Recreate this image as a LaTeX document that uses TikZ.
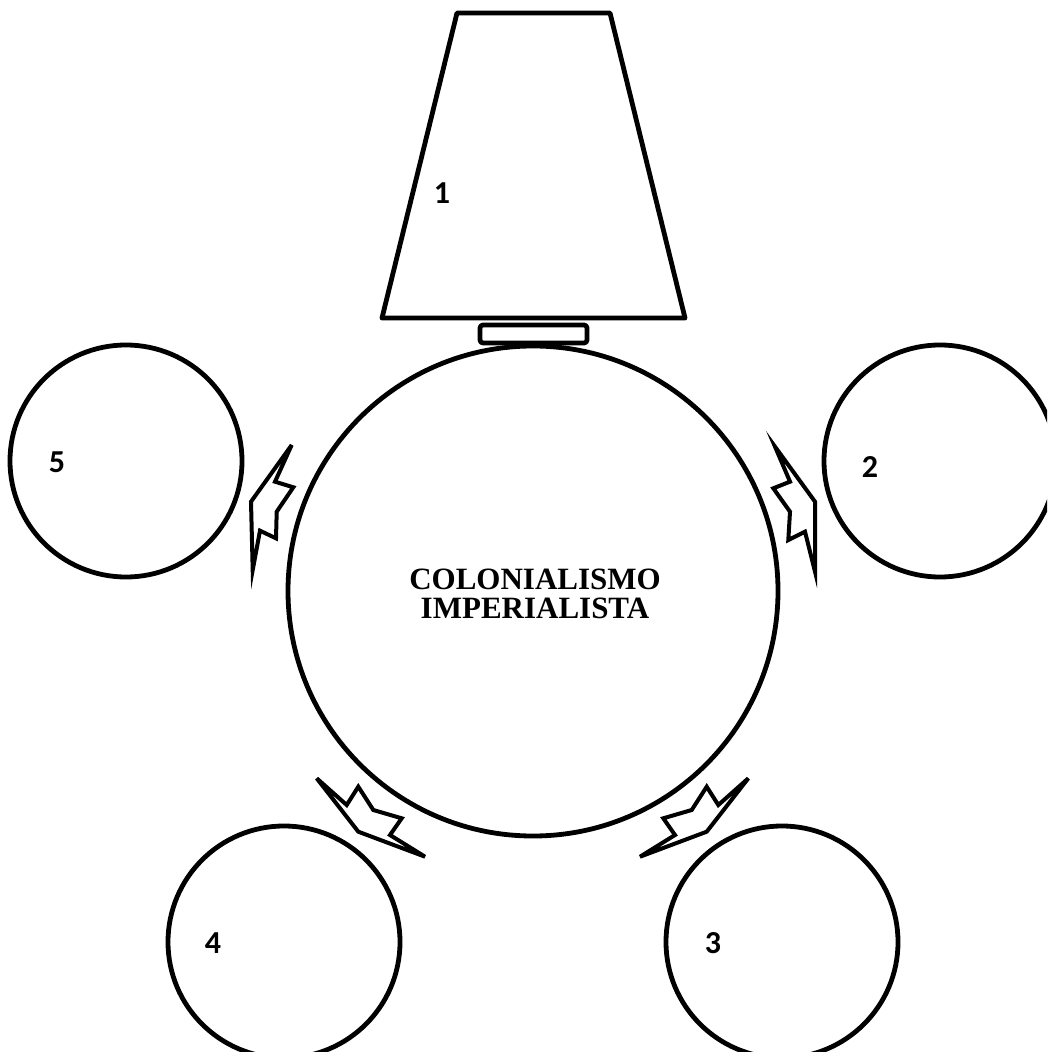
\documentclass[tikz,border=0pt]{standalone}
\usepackage{fontspec}
\setmainfont{Liberation Serif}
\newfontfamily\numfont{Carlito}
\usetikzlibrary{positioning}

\begin{document}
\begin{tikzpicture}[x=0.5pt,y=-0.5pt,
  ring/.style={draw,circle,line width=2.4pt,minimum size=116pt,inner sep=0pt},
  big/.style={ring,minimum size=245pt},
  num/.style={font=\numfont\bfseries\fontsize{16}{18}\selectfont,inner sep=0pt},
  bolt/.style={draw,line width=2pt,line join=miter},
  lamp/.style={draw,line width=2.4pt,line join=round}]
  \clip (0,0) rectangle (1047,1052);
  % lamp shade and its base
  \draw[lamp] (457,13) -- (610,13) -- (685,318) -- (382,318) -- cycle;
  \draw[lamp,rounded corners=1.5pt] (480,325) rectangle (587,343);
  \node[num] (n1) at (442,193) {1};
  % centre
  \node[big] (col) at (533,591) {};
  \node[font=\bfseries\fontsize{15.5}{14.5}\selectfont,align=center] (txt) at (535,594) {COLONIALISMO\\IMPERIALISTA};
  % outer circles
  \node[ring] (c2) at (940,461) {};
  \node[ring] (c3) at (782,942) {};
  \node[ring] (c4) at (284,942) {};
  \node[ring] (c5) at (126,461) {};
  \node[num] (n2) at (870,467) {2};
  \node[num] (n3) at (713,943) {3};
  \node[num] (n4) at (213,943) {4};
  \node[num] (n5) at (57,462) {5};
  % notched arrows
  \draw[bolt] (775,446.7) -- (815,501.7) -- (815,571.7) -- (805,531.7) -- (788.3,540)
    -- (790,511.7) -- (773.3,488.3) -- (790,481.7) -- cycle;
  \draw[bolt] (748.3,778.3) -- (718.3,805) -- (706.7,786.7) -- (691.7,810) -- (663.3,818.3)
    -- (675,835) -- (640,856.7) -- (706.7,831.7) -- cycle;
  \draw[bolt] (316.7,778.3) -- (346.7,805) -- (358.3,786.7) -- (373.3,810) -- (401.7,818.3)
    -- (390,835) -- (425,856.7) -- (358.3,831.7) -- cycle;
  \draw[bolt] (291.7,445) -- (251,501.7) -- (252.7,570) -- (260,530.7) -- (276,538.3)
    -- (276.7,511.7) -- (293.3,487.3) -- (275,481.7) -- cycle;
\end{tikzpicture}
\end{document}
